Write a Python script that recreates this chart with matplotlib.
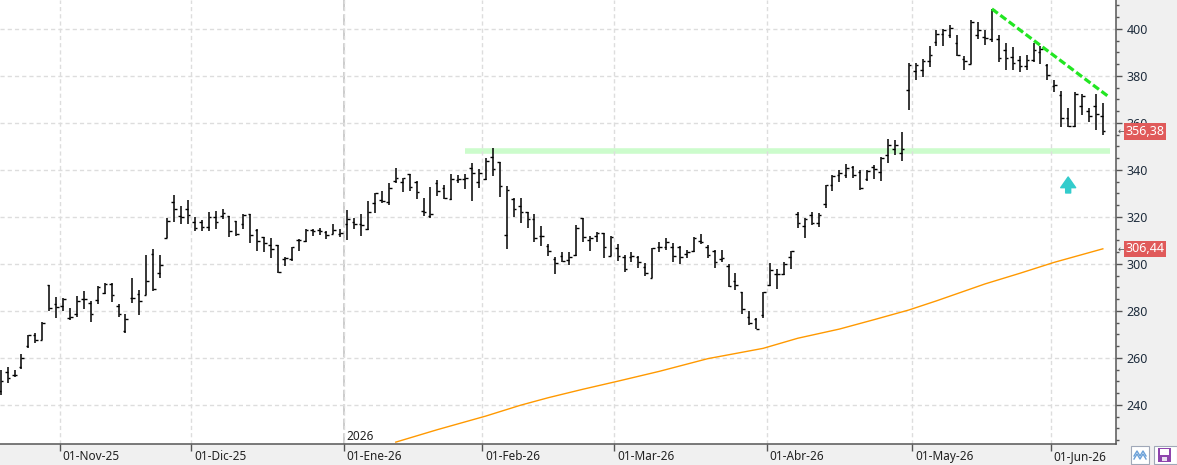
import numpy as np
import matplotlib
matplotlib.use("Agg")
import matplotlib.pyplot as plt
from matplotlib.ticker import MultipleLocator
from matplotlib.transforms import ScaledTranslation, blended_transform_factory
from matplotlib.patches import Rectangle
from matplotlib.lines import Line2D

plt.rcParams['font.family'] = ['Noto Sans', 'DejaVu Sans']

# daily OHLC bars, oldest first
opens = [246, 254, 252.9, 256, 265.1, 269.6, 267.7, 291, 283, 282.1,
         277, 278.9, 285, 283.5, 284.8, 287.7, 291.6, 282.1, 271.3, 285.7,
         287.4, 287, 304.4, 296.2, 311, 326.4, 320.4, 323.5, 317.9, 317.9,
         315.7, 320, 320.3, 320.4, 318.2, 316.9, 321.4, 314.3, 311.6, 308.1,
         308.2, 302, 302.3, 310.1, 309.6, 314.3, 314.3, 313.6, 312.8, 312.9,
         316.9, 318, 316.9, 314.8, 325.8, 327.2, 326.2, 335.3, 335, 338.2,
         335, 322.6, 320.5, 334.3, 332.5, 327.5, 335.7, 336.2, 341, 334.8,
         336.2, 345.7, 343.3, 312.3, 327.7, 324.8, 321.9, 319.1, 312.1, 307.8,
         302.1, 303.5, 301.8, 303.8, 319.4, 310.2, 312.1, 313, 303.5, 306.7,
         303, 302.8, 302.8, 298.6, 293.9, 307.1, 307.1, 307.1, 307.1, 304.3,
         305.5, 309.9, 307.1, 305.7, 302.1, 299.3, 292.9, 288.1, 277.4, 276.7,
         278.2, 290.9, 295.9, 295.9, 303, 321.4, 316.2, 321, 317.6, 325.7,
         333.5, 337.7, 337.7, 341.3, 339.1, 336, 341.3, 339.1, 346.5, 348.8,
         347.2, 374.2, 382, 382.7, 386.5, 394.3, 397.7, 397.2, 393.8, 387.2,
         385.1, 397.6, 396.6, 395.7, 395.5, 391.2, 388.1, 386.9, 384.4, 386.9,
         390.1, 384.8, 375.9, 372, 362.1, 358.6, 367.1, 365, 367.4, 363.1]
highs = [255, 256.2, 254.8, 261.8, 269.9, 270.6, 275.3, 291.2, 286, 285.5,
         281.3, 286.4, 288.5, 284.1, 290.6, 292, 292, 283, 278.9, 294.2,
         289.1, 304, 306.5, 304, 319.6, 329.2, 324.7, 327, 319.9, 318.6,
         322.1, 322.7, 323.5, 320.4, 318.4, 321.4, 321.4, 315, 311.6, 311.2,
         308.2, 303, 307.2, 310.5, 314.8, 315, 315.3, 314, 317.2, 314.9,
         322.8, 319.4, 321.1, 326.8, 330.4, 331.2, 334.3, 340.7, 336.7, 338.2,
         335.3, 328.2, 332.9, 335.7, 333.6, 338.2, 337.9, 338.2, 342.8, 340.4,
         345.2, 349.5, 343.5, 333.2, 328, 328, 322, 321.3, 316, 308.5,
         302.8, 305.2, 305.2, 316.6, 319.4, 312.1, 313.5, 313, 312.1, 308.5,
         303.8, 305.2, 303.3, 300.4, 306.7, 309.5, 311.2, 308.9, 307.5, 306.1,
         311.3, 312.8, 308, 306, 306, 300, 296.2, 288.1, 279.9, 277,
         288.1, 300.6, 298, 300.9, 305.7, 322.1, 319.6, 322.1, 321.7, 333.8,
         337.7, 339.9, 342.7, 341.7, 339.9, 339.9, 342, 345.5, 353, 352.6,
         356, 385.5, 385.5, 387.2, 392.9, 399.4, 400, 401.8, 397.6, 388.4,
         404, 403.1, 399.7, 408.5, 397.6, 394, 392.3, 388.4, 389.1, 393.8,
         392.6, 385.2, 378.4, 373.5, 366.4, 373.1, 372.1, 366.4, 372.1, 368.5]
lows = [244.1, 249.4, 251.9, 255.2, 264.3, 266.4, 267.5, 279.9, 277, 279.9,
        276, 277.3, 281, 275.3, 282.8, 287.1, 283.8, 277.3, 270.6, 283.3,
        278.2, 286.7, 288.5, 294, 311, 317.9, 316.9, 316.9, 314, 314,
        313.9, 314.9, 319.3, 311.3, 311.9, 314.8, 308.9, 305.4, 305.1, 302.6,
        296.2, 299, 301.4, 305.4, 309.4, 311.8, 312.2, 310.5, 312.6, 311.6,
        310.4, 314.9, 311.9, 314.5, 321.6, 325.8, 325.1, 334.3, 330.5, 331.1,
        327.7, 320.6, 319.7, 329.1, 327.5, 327.2, 334.3, 331.9, 326.8, 332.2,
        335.7, 337.6, 328.4, 306.4, 319.9, 317.3, 315.2, 309.5, 307.5, 303.5,
        295.7, 301, 299.6, 303.5, 309.5, 305.7, 309.2, 302.4, 303.5, 301.4,
        296.5, 300.7, 298.2, 295, 293.9, 305.2, 306, 301, 300, 302.4,
        305.2, 308.5, 302.4, 298.2, 301, 290.1, 289.1, 278.6, 273.9, 272.2,
        277, 290.5, 289.2, 295.2, 298, 315.3, 311.1, 316.5, 315.7, 323.8,
        330.9, 334.9, 336.6, 336.6, 331.3, 335.2, 336, 335.4, 342.8, 346.2,
        344, 365.4, 378.4, 379.4, 383.7, 392.6, 392.6, 396.2, 388.4, 382.4,
        385.1, 395.7, 393, 394.3, 385.8, 382.7, 382.7, 381.6, 382.4, 385.8,
        385.1, 378.2, 373, 358.2, 358.3, 358.3, 363.5, 360.3, 356.9, 355]
closes = [250.2, 251.5, 252.6, 260, 269.6, 267.5, 275, 281.3, 281.5, 285,
          277.4, 284.3, 285, 278.7, 290.4, 291.6, 286.9, 278.7, 276.6, 285.5,
          284.4, 292.8, 289.5, 299.6, 318.4, 323.5, 320.1, 320.7, 315.5, 315.7,
          320, 318, 321.6, 314.2, 312.6, 320.7, 312.5, 309.6, 308.8, 306.5,
          296.6, 302.6, 307.1, 310.1, 314.3, 314, 313.9, 312.2, 314.3, 313.3,
          319.3, 316.9, 316.6, 322.3, 330.1, 326.8, 332.2, 336.5, 336.5, 332.9,
          330.5, 322.3, 321.1, 331.1, 328.2, 336.2, 336.2, 336.5, 338.6, 338.7,
          343.8, 340.3, 333.3, 331.5, 323.4, 321.9, 319, 310.9, 311.8, 305.7,
          300.4, 301.4, 302.8, 315.2, 311.3, 310.9, 313.2, 307.1, 311.6, 303.3,
          298, 303.5, 300.7, 296.2, 306.7, 307.1, 309.2, 303.5, 302.8, 305,
          310.9, 309.2, 303.8, 301, 302.4, 290.8, 291.2, 280.7, 275, 272.5,
          288.1, 297.3, 295.9, 300.1, 305.4, 317.6, 319, 317.6, 320.7, 333.5,
          337.4, 338.9, 340.9, 337.7, 332.3, 339.4, 340.6, 345.1, 350.8, 350.5,
          349, 384.8, 384.8, 386.2, 388.7, 398, 399.7, 400.4, 388.7, 386.5,
          402.8, 399.7, 396.2, 408.2, 387.7, 387.7, 385.5, 384.1, 386.9, 390.9,
          391.5, 380.6, 376.3, 362.1, 358.9, 372.5, 371.3, 363.1, 364, 356.38]

month_labels = ['01-Nov-25', '01-Dic-25', '01-Ene-26', '01-Feb-26',
                '01-Mar-26', '01-Abr-26', '01-May-26', '01-Jun-26']
month_first_bar = [9, 28, 50, 70, 89, 111, 132, 152]
year_label = '2026'
year_first_bar = 50

# long moving average, read at a number of bars
ma_bar = [57, 63, 70, 75, 79, 84, 89, 95, 102, 110, 115, 121, 126, 131,
          135, 142, 147, 152, 159]
ma_val = [224.2, 229.5, 235.3, 239.9, 243.1, 246.7, 250.1, 254.3, 259.7,
          264.1, 268.4, 272.3, 276.3, 280.4, 284.3, 291.5, 296.0, 300.7, 306.44]

support_bars = [67, 160]
support_level = 348.1
trend_bars = [143, 160]
trend_vals = [408.5, 370.8]
signal_bar = 154
signal_low, signal_high = 330.2, 337.0

W, H = 1177, 465
fig = plt.figure(figsize=(W / 100, H / 100), dpi=100, facecolor='#f0f0f0')
ax = fig.add_axes([0, 21 / H, 1116 / W, 444 / H])
ax.set_facecolor('white')

x = np.arange(len(closes))

# support band and grid
ax.plot(support_bars, [support_level] * 2, color='#ccfccc', lw=4,
        solid_capstyle='butt', zorder=1)
ax.grid(axis='both', which='major', color='#dddddd', linestyle=(0, (3, 2.2)), lw=1, zorder=0)
ax.axvline(year_first_bar - 0.5, color='#c8c8c8', lw=1.3, dashes=(6, 2), zorder=0.5)

# OHLC bars
ax.vlines(x, lows, highs, color='black', lw=1.1, zorder=3)
ax.hlines(opens, x - 0.38, x, color='black', lw=1.0, zorder=3)
ax.hlines(closes, x, x + 0.38, color='black', lw=1.0, zorder=3)

ax.plot(ma_bar, ma_val, color='#ff9900', lw=1.0, zorder=2)
ax.plot(trend_bars, trend_vals, color='#22e622', lw=2.3, dashes=(2.3, 1.0), zorder=4)

ax.annotate('', xy=(signal_bar, signal_high), xytext=(signal_bar, signal_low),
            arrowprops=dict(arrowstyle='simple,head_length=0.77,head_width=1.08,tail_width=0.36',
                            color='#33cccc', shrinkA=0, shrinkB=0), zorder=5)

ax.set_xlim(-0.1, 160.9)
ax.set_ylim(223.4, 412.3)

# axes styling
for s in ['left', 'top']:
    ax.spines[s].set_visible(False)
for s in ['right', 'bottom']:
    ax.spines[s].set_color('#555555')
    ax.spines[s].set_linewidth(1.1)

ax.yaxis.tick_right()
ax.set_yticks(range(240, 401, 20))
ax.yaxis.set_minor_locator(MultipleLocator(5))
ax.tick_params(axis='y', which='major', length=4.5, width=1, color='#555555',
               pad=3.3, labelsize=9, labelcolor='#1f2d3d')
ax.tick_params(axis='y', which='minor', length=2.4, width=1, color='#555555')

ax.set_xticks([b - 0.5 for b in month_first_bar])
ax.set_xticklabels(month_labels)
ax.tick_params(axis='x', length=5, width=1, color='#555555', pad=-0.5,
               labelsize=8.5, labelcolor='#222222')
off = ScaledTranslation(2 / 72, 0, fig.dpi_scale_trans)
for lbl in ax.get_xticklabels():
    lbl.set_horizontalalignment('left')
    lbl.set_transform(lbl.get_transform() + off)

ax.annotate(year_label, xy=(year_first_bar - 0.5, 0), xycoords=('data', 'axes fraction'),
            xytext=(2, 1), textcoords='offset points', fontsize=8.5, color='#222222',
            ha='left', va='bottom')

# last value tags on the price scale (they sit over the scale, as in the original)
trans = blended_transform_factory(ax.transAxes, ax.transData)
for v in [closes[-1], ma_val[-1]]:
    ax.text(1.0085, v, f'{v:.2f}'.replace('.', ','), transform=trans, color='white',
            fontsize=9, va='center', ha='left', clip_on=False, zorder=10,
            bbox=dict(boxstyle='square,pad=0.14', fc='#e05a5a', ec='none'))
    ax.text(1.0012, v, '←', transform=trans, color='#555555', fontsize=6.5,
            va='center', ha='left', clip_on=False)

# small toolbar buttons, bottom right
def fx(px):
    return px / W

def fy(py):
    return (H - py) / H

fig.add_artist(Rectangle((fx(1131), fy(464)), 18 / W, 18 / H, transform=fig.transFigure,
                         fc='white', ec='#a0a8b8', lw=0.8))
fig.add_artist(Line2D([fx(1134), fx(1137), fx(1140), fx(1143), fx(1146)],
                      [fy(456), fy(451), fy(456), fy(451), fy(456)],
                      transform=fig.transFigure, color='#6aa0d8', lw=1))
fig.add_artist(Line2D([fx(1134), fx(1137), fx(1140), fx(1143), fx(1146)],
                      [fy(459), fy(454), fy(459), fy(454), fy(459)],
                      transform=fig.transFigure, color='#6aa0d8', lw=1))
fig.add_artist(Rectangle((fx(1154), fy(464)), 23 / W, 18 / H, transform=fig.transFigure,
                         fc='white', ec='#a0a8b8', lw=0.8))
fig.add_artist(Rectangle((fx(1158), fy(462)), 13 / W, 14 / H, transform=fig.transFigure,
                         fc='#8e44ad', ec='none'))
fig.add_artist(Rectangle((fx(1160), fy(455)), 9 / W, 6 / H, transform=fig.transFigure,
                         fc='white', ec='none'))
fig.add_artist(Rectangle((fx(1162), fy(461)), 5 / W, 4 / H, transform=fig.transFigure,
                         fc='#e8e0f0', ec='none'))

fig.savefig('out.png', dpi=100, facecolor=fig.get_facecolor())
